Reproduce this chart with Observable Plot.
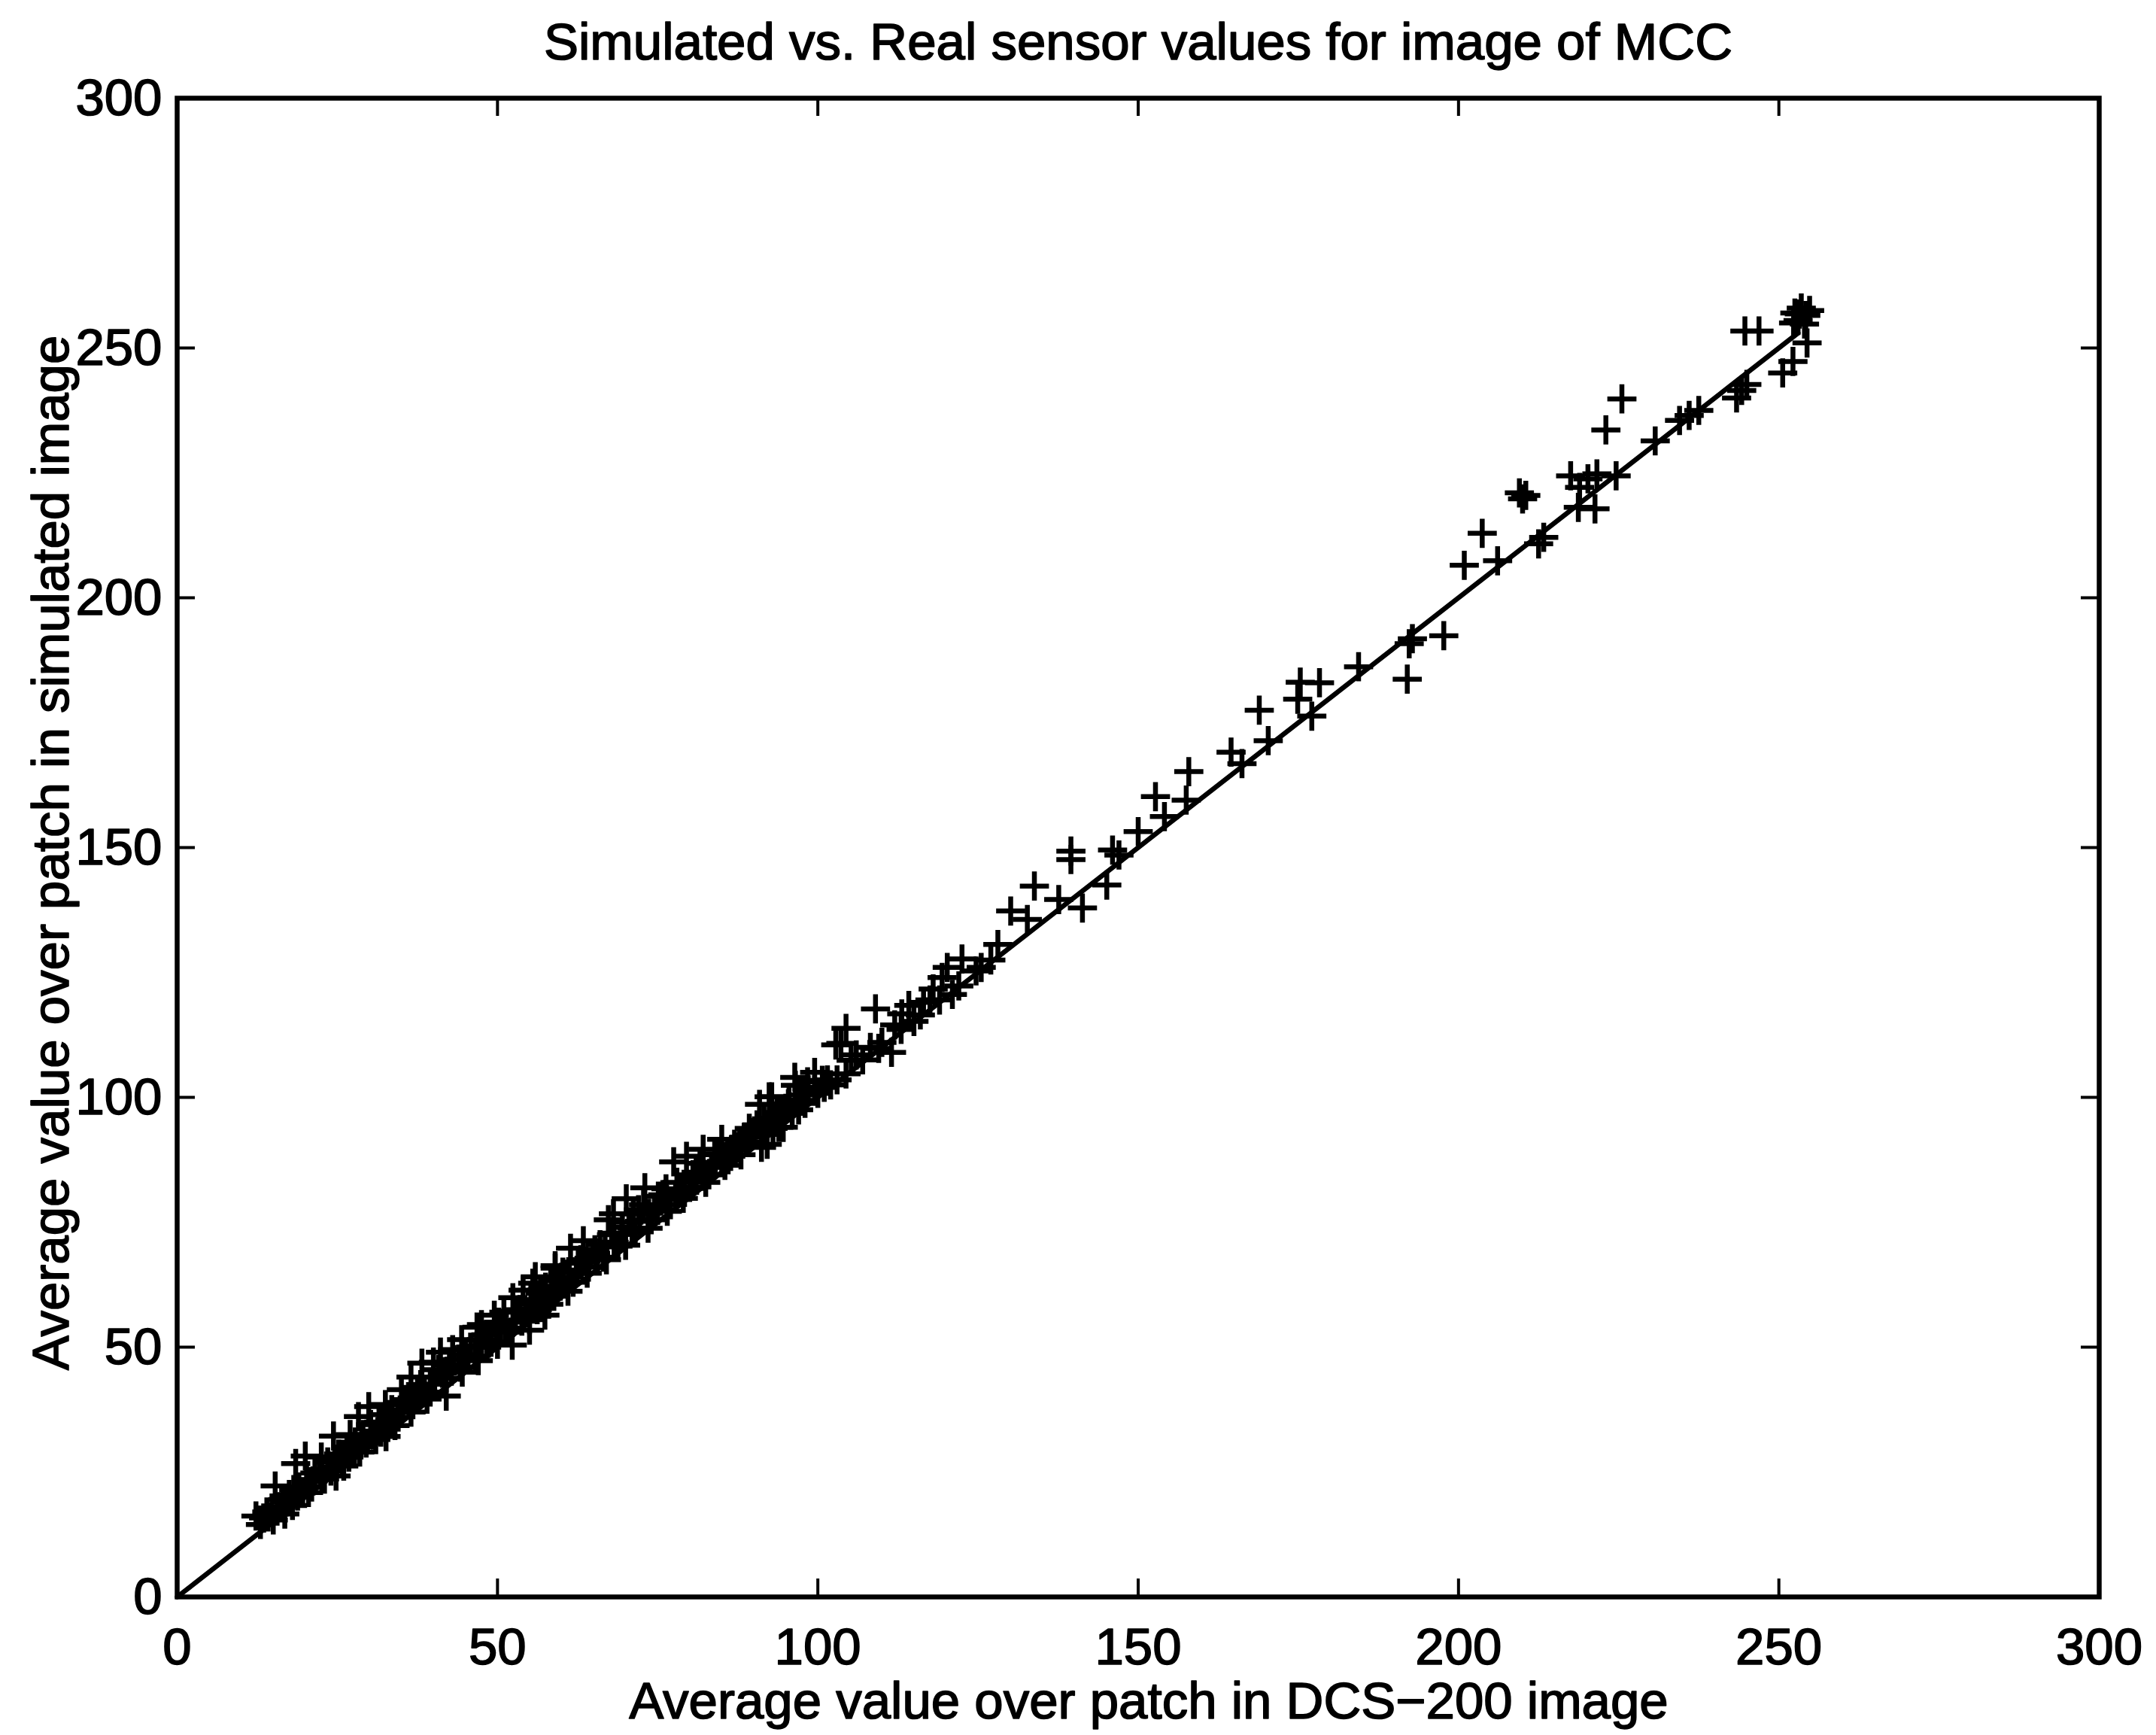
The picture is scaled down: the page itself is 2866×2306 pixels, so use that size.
<!DOCTYPE html>
<html>
<head>
<meta charset="utf-8">
<script src="https://cdn.jsdelivr.net/npm/d3@7"></script>
<script src="https://cdn.jsdelivr.net/npm/@observablehq/plot@0.6"></script>
<style>
  html, body { margin: 0; padding: 0; background: #fff; }
  #chart svg { display: block; }
</style>
</head>
<body>
<div id="chart"></div>
<script>
// ---- Data ----
const titleText = "Simulated vs. Real sensor values for image of MCC";
const xLabelText = "Average value over patch in DCS\u2212200 image";
const yLabelText = "Average value over patch in simulated image";

const xTicks = [0, 50, 100, 150, 200, 250, 300];
const yTicks = [0, 50, 100, 150, 200, 250, 300];

// identity reference line
const lineX = [0, 253];
const lineY = [0, 253];

// dense low band (DCS-200 value, simulated value)
const lowX = [12.3, 13.5, 15.3, 18.5, 20.0, 24.4, 28.3, 29.9, 38.2, 41.1, 44.4, 46.8, 49.5, 55.5, 59.0,
  42.0, 52.3, 55.0, 57.4, 32.6, 24.8, 16.8, 48.3,
  15.0, 18.0, 20.5, 23.0, 26.0, 28.5, 31.0, 34.0, 36.5, 39.0, 44.5, 47.0, 50.0,
  14.0, 16.5, 19.0, 21.5, 23.5, 26.5, 29.0, 31.5, 33.5, 35.5, 37.5, 40.0, 42.5, 45.0, 47.5, 50.5,
  22.5, 27.0, 32.5, 35.0, 36.5, 40.0, 43.0, 47.5, 51.0];
const lowY = [16.2, 15.8, 22.2, 26.7, 28.2, 32.2, 36.1, 38.1, 46.8, 49.0, 51.5, 54.0, 56.4, 62.8, 65.8,
  40.2, 50.4, 53.4, 56.4, 32.1, 24.2, 16.6, 50.0,
  15.4, 18.3, 20.9, 23.6, 26.2, 29.0, 31.5, 34.3, 37.0, 39.6, 45.0, 47.3, 50.6,
  17.0, 19.5, 22.0, 24.8, 27.0, 30.0, 32.5, 35.0, 37.5, 39.5, 41.5, 44.0, 46.5, 48.5, 51.5, 54.0,
  28.0, 32.5, 38.5, 41.5, 44.0, 47.0, 49.5, 54.5, 57.0];

// extra points inside the solid part of the band
const fillX = [13.0, 14.8, 16.2, 17.5, 18.8, 20.2, 21.0, 22.2, 24.0, 25.2, 26.8, 27.8, 29.5, 30.2, 31.8,
  32.8, 34.5, 35.2, 36.8, 38.0, 39.5, 40.8, 42.0, 43.2, 44.2, 45.8, 46.5, 48.2, 49.0, 50.2, 51.8,
  52.8, 53.8, 55.2, 56.2, 57.5, 58.8, 60.2, 61.8, 62.8, 64.2, 65.2, 66.5, 67.8, 68.8, 70.5, 71.5,
  72.8, 74.0, 75.8, 77.0, 78.5, 80.0, 81.0, 83.0, 84.5, 86.0, 87.5, 89.0, 90.5, 93.0, 95.5, 96.0,
  98.0, 99.5, 101.5, 102.0, 106.0, 109.5, 112.0, 115.0, 117.5];
const fillY = [14.5, 17.8, 18.0, 20.5, 20.2, 23.5, 22.0, 25.5, 25.2, 28.6, 28.0, 31.0, 30.8, 34.5, 33.0,
  36.5, 36.0, 38.8, 38.5, 42.5, 41.0, 45.5, 43.8, 47.5, 46.0, 50.0, 48.2, 52.5, 51.0, 55.0, 53.0,
  57.2, 55.2, 59.5, 57.5, 62.0, 60.2, 65.0, 63.0, 67.0, 66.0, 69.5, 68.0, 72.5, 70.2, 75.0, 73.0,
  78.5, 75.5, 80.5, 78.5, 81.5, 82.0, 85.0, 84.5, 88.5, 87.5, 90.0, 91.0, 94.5, 93.8, 99.5, 96.8,
  98.8, 101.5, 103.5, 102.5, 108.5, 109.8, 114.5, 115.2, 119.5];

const coreX = [14.2, 15.6, 17.0, 18.2, 19.6, 21.2, 22.6, 24.6, 25.8, 27.4, 28.8, 30.6, 32.0, 33.2, 34.8,
  36.2, 37.2, 38.6, 40.2, 41.4, 42.8, 44.0, 45.4, 46.8, 48.6, 49.8, 51.2, 52.4, 54.4, 55.8, 57.0,
  58.4, 59.8, 61.2, 62.4, 63.8, 65.6, 66.8, 68.2, 69.4, 71.0, 72.2, 73.6, 75.0, 76.4, 77.8, 79.2,
  80.6, 82.0, 83.4, 85.0, 86.4, 87.8, 89.6, 91.4, 93.6, 95.0, 97.2];
const coreY = [16.0, 17.2, 19.0, 21.5, 21.0, 23.2, 24.0, 27.2, 27.0, 29.6, 31.8, 32.4, 34.8, 35.5, 37.4,
  39.2, 40.0, 41.0, 42.6, 44.8, 45.2, 47.6, 47.5, 50.2, 50.8, 53.2, 53.8, 55.0, 57.0, 58.6, 59.4,
  61.6, 62.2, 64.0, 65.4, 67.2, 67.8, 70.2, 71.0, 72.6, 73.8, 75.2, 76.8, 77.4, 79.6, 80.4, 81.0,
  83.8, 84.2, 86.0, 87.2, 88.2, 91.2, 92.4, 92.6, 96.2, 97.8, 99.4];

// middle band
const midX = [73.0, 70.1, 68.1, 67.3, 63.4, 61.4, 59.0, 55.9, 54.0, 52.4, 79.5, 77.5, 82.1, 85.0, 87.0,
  90.9, 92.8, 96.4, 99.5, 102.8, 92.1, 94.6, 92.8, 76.3, 81.6, 83.9, 75.1, 71.2, 68.1, 65.3, 62.6,
  59.4, 56.7, 89.3, 97.9, 101.0,
  55.0, 58.0, 61.0, 64.0, 67.0, 70.0, 73.5, 76.5, 79.0, 82.5, 85.5, 88.0, 97.0, 100.0, 103.0, 107.0,
  110.0, 113.0, 116.0,
  53.5, 57.0, 60.0, 63.0, 66.0, 69.5, 72.0, 74.5, 78.0, 80.5, 84.0, 86.5, 88.5, 94.0, 98.5];
const midY = [81.9, 79.7, 76.7, 75.5, 71.3, 69.8, 66.3, 64.1, 61.4, 59.9, 88.2, 87.1, 89.6, 91.6, 90.6,
  98.6, 100.1, 104.0, 105.0, 110.5, 90.6, 94.0, 95.8, 81.7, 86.8, 88.7, 80.2, 76.7, 72.8, 68.8, 66.8,
  63.3, 60.8, 93.8, 100.5, 102.0,
  55.5, 58.6, 61.2, 64.8, 67.5, 70.4, 73.8, 77.2, 79.8, 83.0, 86.4, 88.5, 97.5, 100.8, 103.5, 107.5,
  111.0, 113.6, 116.5,
  57.5, 61.5, 64.0, 67.5, 70.5, 74.0, 77.5, 78.0, 83.0, 84.5, 87.0, 89.5, 92.0, 97.0, 101.5];

// upper-middle band
const upX = [177.1, 175.3, 174.9, 178.3, 168.9, 170.3, 166.2, 164.5, 157.9, 157.5, 152.7, 154.1, 150.0,
  146.0, 147.0, 139.5, 139.5, 145.1, 133.8, 137.6, 141.3, 130.1, 132.7, 128.1, 122.5, 120.2, 124.7,
  119.4, 118.0, 121.0, 116.5, 114.2, 109.0, 113.1, 104.4, 103.6, 111.5, 108.2, 105.2, 104.4, 98.4,
  96.5, 100.7, 92.4, 95.4, 91.6, 93.9, 90.1, 91.2, 119.0, 122.0, 125.5, 127.0];
const upY = [176.3, 183.1, 179.7, 183.0, 177.5, 171.4, 166.8, 169.1, 165.2, 159.5, 160.2, 156.2, 153.2,
  149.5, 148.5, 149.3, 147.6, 142.5, 142.3, 139.6, 137.9, 137.3, 135.6, 130.6, 127.7, 126.0, 125.3,
  124.0, 121.7, 120.6, 119.0, 118.4, 117.7, 116.7, 113.8, 110.8, 109.0, 110.0, 107.4, 104.7, 103.1,
  102.4, 103.4, 100.1, 98.7, 95.4, 94.0, 93.3, 90.0, 119.5, 122.3, 126.0, 127.5];

// top band
const topX = [252.5, 253.5, 254.2, 254.8, 253.0, 252.3, 254.0, 253.2, 254.4, 252.2, 250.6, 244.7, 246.9,
  245.0, 243.4, 244.2, 225.5, 223.0, 234.5, 236.0, 237.5, 230.7, 217.5, 220.2, 221.6, 224.6, 218.9,
  221.3, 218.7, 209.5, 210.5, 210.0, 203.7, 200.9, 206.1, 213.3, 212.5, 197.7, 192.8, 192.3, 192.0, 184.4];
const topY = [257.0, 258.0, 256.5, 257.5, 255.5, 255.0, 254.8, 256.8, 251.0, 247.3, 245.0, 253.4, 253.4,
  242.7, 240.0, 241.5, 239.8, 233.6, 235.5, 236.5, 237.5, 231.4, 224.4, 223.8, 224.8, 224.4, 222.1,
  217.8, 218.1, 221.0, 220.5, 219.8, 212.9, 206.5, 207.4, 212.1, 210.8, 192.4, 191.8, 190.8, 183.7, 186.2];

// ---- Build tables ----
const xs = [...lowX, ...fillX, ...coreX, ...midX, ...upX, ...topX];
const ys = [...lowY, ...fillY, ...coreY, ...midY, ...upY, ...topY];
const points = xs.map((x, i) => ({x, y: ys[i]}));
const fitLine = lineX.map((x, i) => ({x, y: lineY[i]}));

const W = 2866, H = 2306;
const mL = 235, mR = 76, mT = 130, mB = 184;
const frameW = W - mL - mR, frameH = H - mT - mB;
const tickLen = 24;
const font = "'Liberation Sans', Arial, Helvetica, sans-serif";
const fs = 69;
const textStyle = {fontSize: fs, fill: "#000", stroke: "#000", strokeWidth: 1.6};

const chart = Plot.plot({
  width: W,
  height: H,
  marginLeft: mL,
  marginRight: mR,
  marginTop: mT,
  marginBottom: mB,
  x: {domain: [0, 300], axis: null},
  y: {domain: [0, 300], axis: null},
  style: {fontFamily: font, background: "#fff", color: "#000"},
  marks: [
    // inward ticks on all four sides
    Plot.tickX(xTicks, {x: d => d, insetTop: frameH - tickLen, stroke: "#000", strokeWidth: 4}),
    Plot.tickX(xTicks, {x: d => d, insetBottom: frameH - tickLen, stroke: "#000", strokeWidth: 4}),
    Plot.tickY(yTicks, {y: d => d, insetRight: frameW - tickLen, stroke: "#000", strokeWidth: 4}),
    Plot.tickY(yTicks, {y: d => d, insetLeft: frameW - tickLen, stroke: "#000", strokeWidth: 4}),
    // tick labels
    Plot.text(xTicks, {x: d => d, text: d => String(d), frameAnchor: "bottom", dy: 40,
      lineAnchor: "top", textAnchor: "middle", ...textStyle}),
    Plot.text(yTicks, {y: d => d, text: d => String(d), frameAnchor: "left", dx: -20,
      textAnchor: "end", lineAnchor: "middle", ...textStyle}),
    // reference line
    Plot.line(fitLine, {x: "x", y: "y", stroke: "#000", strokeWidth: 6.5}),
    // data points
    Plot.dot(points, {x: "x", y: "y", symbol: "plus", r: 12.5, stroke: "#000", strokeWidth: 6.5}),
    Plot.frame({stroke: "#000", strokeWidth: 6.5}),
    // title & axis labels
    Plot.text([titleText], {text: d => d, frameAnchor: "top", dy: -52, lineAnchor: "bottom",
      textAnchor: "middle", ...textStyle}),
    Plot.text([xLabelText], {text: d => d, frameAnchor: "bottom", dx: 14, dy: 161, lineAnchor: "bottom",
      textAnchor: "middle", ...textStyle}),
    Plot.text([yLabelText], {text: d => d, frameAnchor: "left", dx: -145, dy: 7, rotate: -90,
      lineAnchor: "bottom", textAnchor: "middle", ...textStyle})
  ]
});
document.getElementById("chart").appendChild(chart);
</script>
</body>
</html>
